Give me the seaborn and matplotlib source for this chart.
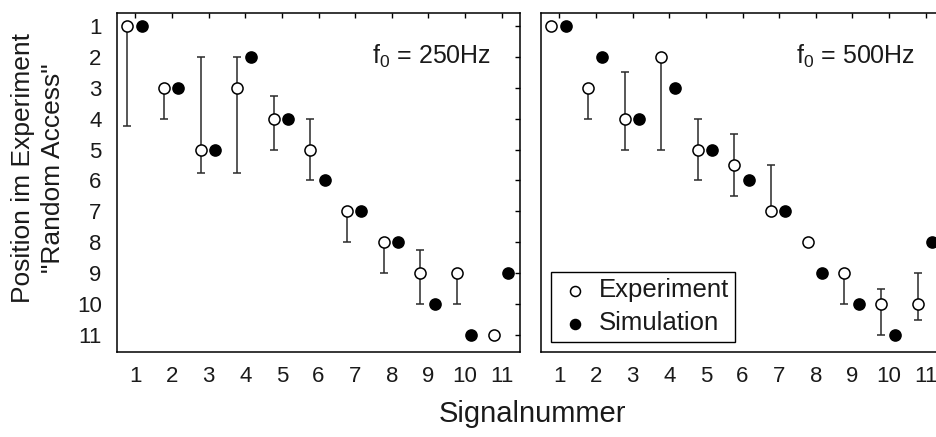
import numpy as np
import pandas as pd
import matplotlib
matplotlib.use("Agg")
import matplotlib.pyplot as plt
import seaborn as sns

# Signal numbers (x axis)
signal = [1, 2, 3, 4, 5, 6, 7, 8, 9, 10, 11]

# f0 = 250 Hz: experiment position with range, and simulated position
exp_250 = [1, 3, 5, 3, 4, 5, 7, 8, 9, 9, 11]
exp_250_lo = [1, 3, 2, 2, 3.25, 4, 7, 8, 8.25, 9, 11]
exp_250_hi = [4.25, 4, 5.75, 5.75, 5, 6, 8, 9, 10, 10, 11]
sim_250 = [1, 3, 5, 2, 4, 6, 7, 8, 10, 11, 9]

# f0 = 500 Hz
exp_500 = [1, 3, 4, 2, 5, 5.5, 7, 8, 9, 10, 10]
exp_500_lo = [1, 3, 2.5, 2, 4, 4.5, 5.5, 8, 9, 9.5, 9]
exp_500_hi = [1, 4, 5, 5, 6, 6.5, 7, 8, 10, 11, 10.5]
sim_500 = [1, 2, 4, 3, 5, 6, 7, 9, 10, 11, 8]

panel_titles = ["250Hz", "500Hz"]
y_ticks = list(range(1, 12))

sns.set_style("white")
plt.rcParams["font.family"] = ["Liberation Sans", "DejaVu Sans"]
plt.rcParams["mathtext.fontset"] = "custom"
plt.rcParams["mathtext.rm"] = "Liberation Sans"
plt.rcParams["mathtext.it"] = "Liberation Sans"

W, H = 936, 437
fig = plt.figure(figsize=(W / 100, H / 100), dpi=100)

ax_w = 403 / W
ax_h = 339 / H
ax_b = (H - 352) / H
axes = [fig.add_axes([117 / W, ax_b, ax_w, ax_h]),
        fig.add_axes([541 / W, ax_b, ax_w, ax_h])]

EXP_OFF = -0.22
SIM_OFF = 0.17
MARKER_S = 64

panels = [
    (exp_250, exp_250_lo, exp_250_hi, sim_250),
    (exp_500, exp_500_lo, exp_500_hi, sim_500),
]

for i, (ax, (ex, lo, hi, sim), title) in enumerate(zip(axes, panels, panel_titles)):
    df = pd.DataFrame({
        "signal": signal,
        "exp": ex,
        "lo": lo,
        "hi": hi,
        "sim": sim,
    })
    df["x_exp"] = df["signal"] + EXP_OFF
    df["x_sim"] = df["signal"] + SIM_OFF

    ax.errorbar(df["x_exp"], df["exp"],
                yerr=[df["exp"] - df["lo"], df["hi"] - df["exp"]],
                fmt="none", ecolor="#2a2a2a", elinewidth=1.1,
                capsize=2.6, capthick=1.1, zorder=2)
    sns.scatterplot(data=df, x="x_exp", y="exp", ax=ax, s=MARKER_S,
                    color="white", edgecolor="black", linewidth=1.1,
                    label="Experiment", zorder=3, clip_on=False)
    sns.scatterplot(data=df, x="x_sim", y="sim", ax=ax, s=MARKER_S,
                    color="black", edgecolor="black", linewidth=1.1,
                    label="Simulation", zorder=3, clip_on=False)

    ax.set_xlim(0.5, 11.5)
    ax.set_ylim(11.55, 0.58)
    ax.set_xticks(signal)
    ax.set_yticks(y_ticks)
    ax.set_xlabel("")
    ax.set_ylabel("")
    ax.tick_params(axis="both", direction="in", length=3.6, width=1.0,
                   top=True, right=True, colors="black", labelsize=16,
                   labelcolor="#1a1a1a")
    ax.tick_params(axis="x", pad=10)
    ax.tick_params(axis="y", pad=11)
    for sp in ax.spines.values():
        sp.set_color("black")
        sp.set_linewidth(1.1)
        sp.set_visible(True)

    ax.text(7.47, 2.0, r"f$_{0}$ = " + title, fontsize=18, color="#1a1a1a",
            ha="left", va="center")

    if i == 0:
        ax.get_legend().remove()
    else:
        ax.set_yticklabels([])
        leg = ax.legend(loc="lower left", bbox_to_anchor=(0.025, 0.03),
                        borderaxespad=0, frameon=True, fancybox=False,
                        edgecolor="black", framealpha=1, fontsize=18.5,
                        handletextpad=0.2, handlelength=1.4, borderpad=0.25,
                        labelspacing=0.35, scatterpoints=1, markerscale=0.9)
        leg.get_frame().set_linewidth(1.0)
        for t in leg.get_texts():
            t.set_color("#1a1a1a")

fig.text(532 / W, 1 - 414 / H, "Signalnummer", fontsize=21, color="#1a1a1a",
         ha="center", va="center")
fig.text(38 / W, 1 - 168 / H, "Position im Experiment\n\"Random Access\"",
         fontsize=19, color="#1a1a1a", rotation=90, ha="center",
         va="center", multialignment="center", linespacing=1.3)

fig.savefig("out.png", dpi=100)
